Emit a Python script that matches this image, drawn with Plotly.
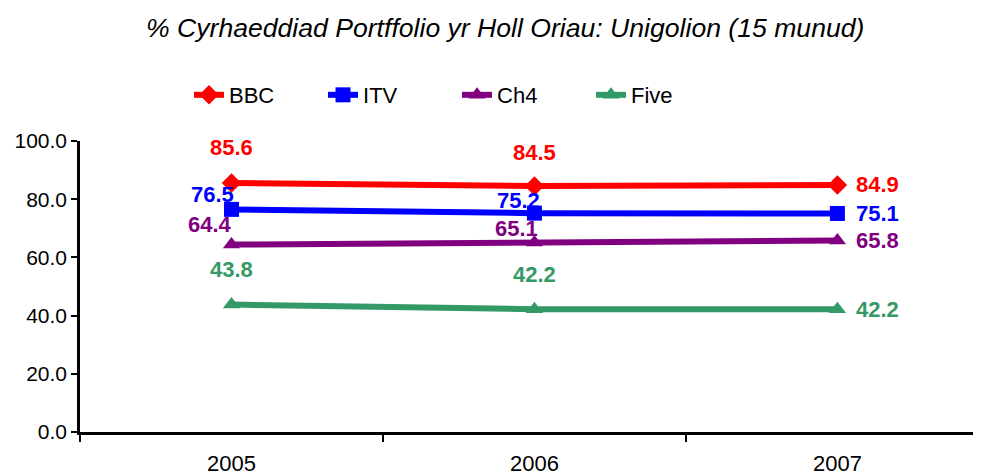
import plotly.graph_objects as go

years = ["2005", "2006", "2007"]
series_names = ["BBC", "ITV", "Ch4", "Five"]
bbc = [85.6, 84.5, 84.9]
itv = [76.5, 75.2, 75.1]
ch4 = [64.4, 65.1, 65.8]
five = [43.8, 42.2, 42.2]
yticks = [0, 20, 40, 60, 80, 100]

values = [bbc, itv, ch4, five]
colors = ["#FF0000", "#0000FF", "#800080", "#339966"]
symbols = ["diamond", "square", "triangle-up", "triangle-up"]
# label offsets (px) per series per point
offsets = [
    [(0, 35), (0, 34), (40, 0)],
    [(-19, 15), (-16, 13), (40, 0)],
    [(-21, 20), (-18, 14), (40, 0)],
    [(0, 35), (0, 35), (40, 0)],
]

fig = go.Figure()
for name, vals, col, sym in zip(series_names, values, colors, symbols):
    fig.add_trace(go.Scatter(
        x=years, y=vals, name=name, mode="lines+markers",
        line=dict(color=col, width=6),
        marker=dict(symbol=sym, size=15, color=col),
        cliponaxis=False,
    ))

for vals, col, offs in zip(values, colors, offsets):
    for i, (v, (dx, dy)) in enumerate(zip(vals, offs)):
        fig.add_annotation(
            x=i, y=v, text=f"<b>{v:.1f}</b>", showarrow=False,
            xshift=dx, yshift=dy, xref="x", yref="y",
            font=dict(family="Liberation Sans, Arial", size=22, color=col),
        )

fig.update_layout(
    width=973, height=467,
    margin=dict(l=72, r=0, t=133, b=43),
    paper_bgcolor="white", plot_bgcolor="white",
    font=dict(family="Liberation Sans, Arial", color="black"),
    title=dict(
        text="<i>% Cyrhaeddiad Portffolio yr Holl Oriau: Unigolion (15 munud)</i>",
        x=0.511, xanchor="center", y=0.957, yanchor="middle",
        font=dict(size=26.6, color="black"),
    ),
    legend=dict(
        orientation="h", x=0.121, xanchor="left", y=1.158, yanchor="middle",
        font=dict(size=22), entrywidth=89, entrywidthmode="pixels",
    ),
    showlegend=True,
)
fig.update_xaxes(
    type="category", range=[-0.5, 2.474], tickson="boundaries",
    ticks="outside", ticklen=7, tickwidth=2, tickcolor="black",
    showline=True, linecolor="black", linewidth=2.5, showgrid=False,
    tickfont=dict(size=22), ticklabelstandoff=10,
)
fig.update_yaxes(
    range=[0, 100], tickvals=yticks, tickformat=".1f",
    ticks="outside", ticklen=6, tickwidth=2, tickcolor="black",
    showline=True, linecolor="black", linewidth=2.5, showgrid=False,
    zeroline=False, tickfont=dict(size=21),
)

fig.write_html("out.html")
